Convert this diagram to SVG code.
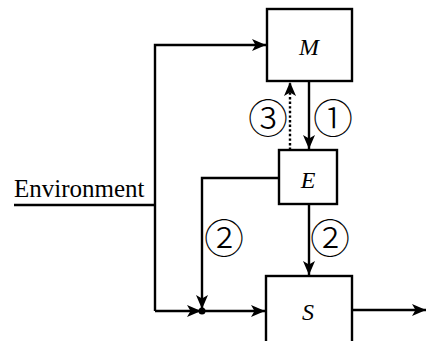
<svg xmlns="http://www.w3.org/2000/svg" width="427" height="341" viewBox="0 0 427 341">
<style>
.box{fill:#fff;stroke:#000;stroke-width:2.4}
.ln{fill:none;stroke:#000;stroke-width:2.4}
.dot{stroke-dasharray:2.4 2.2}
.var{font-family:"Liberation Serif","Times New Roman",serif;font-style:italic;font-size:24px;text-anchor:middle}
.lab{font-family:"Liberation Serif","Times New Roman",serif;font-size:25px}
.num{font-family:"Noto Sans CJK SC","DejaVu Sans",sans-serif;font-size:40px;font-weight:300;text-anchor:middle}
</style>
<defs>
<marker id="ah" markerUnits="userSpaceOnUse" markerWidth="16" markerHeight="14" viewBox="-15 -7 16 14" refX="0" refY="0" orient="auto">
<path d="M0,0 L-14,-6 L-10.5,0 L-14,6 Z" fill="#000"/>
</marker>
</defs>
<g id="connectors">
<path class="ln" d="M14,205 H155"/>
<path class="ln" d="M155,311 V45 H266" marker-end="url(#ah)"/>
<path class="ln" d="M155,311 H201" marker-end="url(#ah)"/>
<path class="ln" d="M202,311 H265" marker-end="url(#ah)"/>
<path class="ln" d="M279,178 H202 V309" marker-end="url(#ah)"/>
<path class="ln" d="M309,81 V149" marker-end="url(#ah)"/>
<path class="ln dot" d="M290,150 V82" marker-end="url(#ah)"/>
<path class="ln" d="M309,204 V275" marker-end="url(#ah)"/>
<path class="ln" d="M352,310 H426" marker-end="url(#ah)"/>
<circle cx="202" cy="311" r="3.5" fill="#000"/>
</g>
<g id="node-M">
<rect class="box" x="267" y="9" width="85" height="72"/>
<text class="var" x="309" y="55">M</text>
</g>
<g id="node-E">
<rect class="box" x="279" y="150" width="58" height="54"/>
<text class="var" x="308" y="188">E</text>
</g>
<g id="node-S">
<rect class="box" x="266" y="276" width="86" height="80"/>
<text class="var" x="308" y="320">S</text>
</g>
<g id="labels">
<text class="lab" x="14" y="197">Environment</text>
<text class="num" x="268" y="133">③</text>
<text class="num" x="333" y="133">①</text>
<text class="num" x="224" y="253">②</text>
<text class="num" x="330" y="253">②</text>
</g>
</svg>
